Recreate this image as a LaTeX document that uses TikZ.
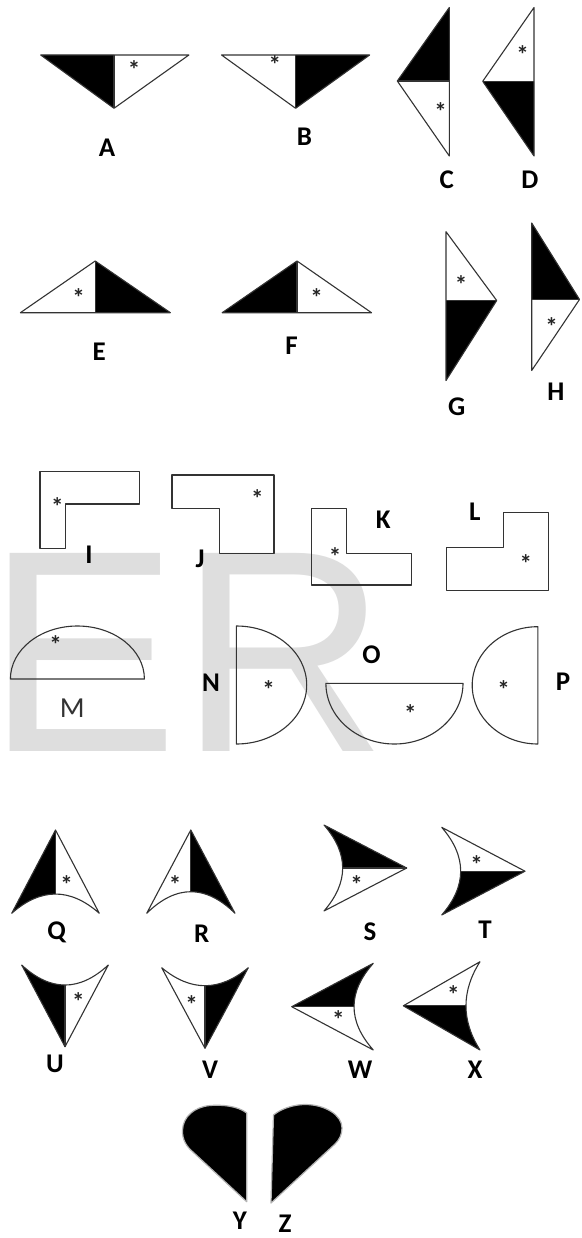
\documentclass[tikz,border=0pt]{standalone}
\usepackage{fontspec}
\newfontfamily\labfont{Carlito}
\newfontfamily\markfont{Liberation Sans}
\begin{document}
\begin{tikzpicture}[x=1pt,y=-1pt,
  outline/.style={draw=black!80, line width=1.1pt, line join=round},
  lab/.style={font=\labfont\bfseries\fontsize{27}{27}\selectfont, anchor=base, inner sep=0pt},
  labthin/.style={font=\labfont\fontsize{29}{29}\selectfont, text=black!80, anchor=base, inner sep=0pt},
  stark/.style={font=\labfont\bfseries\fontsize{25}{25}\selectfont, text=black!85, anchor=base, inner sep=0pt},
  wmark/.style={font=\markfont\fontsize{288}{288}\selectfont, text=black!13, anchor=base west, inner sep=0pt},
  capsule/.style={draw=gray!60, line width=1.2pt, fill=black, line join=round}]
\newcommand\starmark[3]{\node[stark] (#1) at (#2,#3+12) {*};}

\useasboundingbox (0,0) rectangle (581,1238);
\fill[white] (0,0) rectangle (581,1238);

% watermark letters
\node[wmark] (wmE) at (-13.7,751) {E};
\node[wmark] (wmR) at (179,751) {R};

% ---------- half-shaded triangles ----------
% A
\fill (40.7,55) -- (114,55) -- (114,108.3) -- cycle;
\draw[outline] (40.7,55) -- (188.9,55) -- (114,108.3) -- cycle;
\draw[outline] (114,55) -- (114,108.3);
\starmark{sA}{134}{66.7}
\node[lab] (lA) at (107,157) {A};
% B
\fill (295.6,55) -- (369.6,55) -- (295.6,108.3) -- cycle;
\draw[outline] (221.5,55) -- (369.6,55) -- (295.6,108.3) -- cycle;
\draw[outline] (295.6,55) -- (295.6,108.3);
\starmark{sB}{274.8}{61.7}
\node[lab] (lB) at (304.4,145.5) {B};
% C
\fill (449.3,7.5) -- (397.3,81) -- (449.3,81) -- cycle;
\draw[outline] (449.3,7.5) -- (397.3,81) -- (449.3,156) -- cycle;
\draw[outline] (397.3,81) -- (449.3,81);
\starmark{sC}{440.7}{108.3}
\node[lab] (lC) at (446.7,189) {C};
% D
\fill (482.7,81.3) -- (534,81.3) -- (534,156) -- cycle;
\draw[outline] (534,7.5) -- (482.7,81.3) -- (534,156) -- cycle;
\draw[outline] (482.7,81.3) -- (534,81.3);
\starmark{sD}{522.7}{51.7}
\node[lab] (lD) at (530,189) {D};
% E
\fill (95.2,261) -- (170.4,312.7) -- (95.2,312.7) -- cycle;
\draw[outline] (20.4,312.7) -- (95.2,261) -- (170.4,312.7) -- cycle;
\draw[outline] (95.2,261) -- (95.2,312.7);
\starmark{sE}{78.5}{294.3}
\node[lab] (lE) at (99.3,360.5) {E};
% F
\fill (297,261) -- (222.2,312.7) -- (297,312.7) -- cycle;
\draw[outline] (222.2,312.7) -- (297,261) -- (371.5,312.7) -- cycle;
\draw[outline] (297,261) -- (297,312.7);
\starmark{sF}{316.7}{294.3}
\node[lab] (lF) at (291.5,354.5) {F};
% G
\fill (446,300.5) -- (496.7,300.5) -- (446,380.5) -- cycle;
\draw[outline] (446,231.7) -- (496.7,300.5) -- (446,380.5) -- cycle;
\draw[outline] (446,300.5) -- (496.7,300.5);
\starmark{sG}{461}{281.7}
\node[lab] (lG) at (456.7,415.5) {G};
% H
\fill (531.7,223) -- (579.5,299.5) -- (531.7,299.5) -- cycle;
\draw[outline] (531.7,223) -- (579.5,299.5) -- (531.7,370.5) -- cycle;
\draw[outline] (531.7,299.5) -- (579.5,299.5);
\starmark{sH}{551.7}{323.3}
\node[lab] (lH) at (556,400.5) {H};

% ---------- L-shaped outlines ----------
\draw[outline] (40,471.7) -- (139.3,471.7) -- (139.3,504) -- (65.9,504) -- (65.9,548.3) -- (40,548.3) -- cycle;
\starmark{sI}{57.4}{503.3}
\node[lab] (lI) at (88.9,563.5) {I};
\draw[outline] (172,475) -- (274,475) -- (274,553.3) -- (219.3,553.3) -- (219.3,508.3) -- (172,508.3) -- cycle;
\starmark{sJ}{257.4}{495}
\node[lab] (lJ) at (200,567) {J};
\draw[outline] (311.1,508.3) -- (346.3,508.3) -- (346.3,553.3) -- (411.9,553.3) -- (411.9,585) -- (311.1,585) -- cycle;
\starmark{sK}{335.2}{553.3}
\node[lab] (lK) at (383.3,528.5) {K};
\draw[outline] (503.7,512.7) -- (548.1,512.7) -- (548.1,590.7) -- (446.3,590.7) -- (446.3,547.3) -- (503.7,547.3) -- cycle;
\starmark{sL}{525.9}{560}
\node[lab] (lL) at (474.8,520.5) {L};

% ---------- half-ellipses ----------
\draw[outline] (10.4,679) .. controls (10.4,649.7) and (40.4,626) .. (77.4,626)
  .. controls (114.4,626) and (144.4,649.7) .. (144.4,679) -- cycle;
\starmark{sM}{55.6}{641.7}
\node[labthin] (lM) at (72.2,717.5) {M};
\draw[outline] (236.3,626) .. controls (275.2,626) and (306.7,652.4) .. (306.7,685)
  .. controls (306.7,717.6) and (275.2,744) .. (236.3,744) -- cycle;
\starmark{sN}{268.5}{686}
\node[lab] (lN) at (211.1,691.5) {N};
\draw[outline] (325.9,683.3) .. controls (325.9,716.8) and (356.6,744) .. (394.4,744)
  .. controls (432.2,744) and (463,716.8) .. (463,683.3) -- cycle;
\starmark{sO}{410.4}{710}
\node[lab] (lO) at (371.5,663.5) {O};
\draw[outline] (537.8,626.7) .. controls (501.6,626.7) and (472.2,652.9) .. (472.2,685.3)
  .. controls (472.2,717.7) and (501.6,744) .. (537.8,744) -- cycle;
\starmark{sP}{503.7}{686}
\node[lab] (lP) at (563,690.5) {P};

% ---------- cusped pieces ----------
% Q
\def\pQ{(11.7,913.3) -- (55.5,830) -- (99.3,913.3) .. controls (70.1,887.6) and (40.9,887.6) .. (11.7,913.3) -- cycle}
\begin{scope}\clip (0,800) rectangle (55.5,925); \fill \pQ; \end{scope}
\draw[outline] \pQ;
\draw[outline] (55.5,830) -- (55.5,894);
\starmark{sQ}{66.7}{881.7}
\node[lab] (lQ) at (56.7,939) {Q};
% R
\def\pR{(146.7,913.3) -- (190.8,830) -- (235,913.3) .. controls (205.6,884.5) and (176.1,884.5) .. (146.7,913.3) -- cycle}
\begin{scope}\clip (190.8,800) rectangle (250,925); \fill \pR; \end{scope}
\draw[outline] \pR;
\draw[outline] (190.8,830) -- (190.8,891.7);
\starmark{sR}{175}{881}
\node[lab] (lR) at (201.7,942) {R};
% S
\def\pS{(324,825) -- (406.7,868) -- (324,911) .. controls (348.9,882.3) and (348.9,853.7) .. (324,825) -- cycle}
\begin{scope}\clip (310,810) rectangle (420,868); \fill \pS; \end{scope}
\draw[outline] \pS;
\draw[outline] (342.7,868) -- (406.7,868);
\starmark{sS}{356.7}{881.7}
\node[lab] (lS) at (370,940.5) {S};
% T
\def\pT{(441.7,827.3) -- (525,871.2) -- (441.7,915) .. controls (467,885.8) and (467,856.5) .. (441.7,827.3) -- cycle}
\begin{scope}\clip (430,871.2) rectangle (540,925); \fill \pT; \end{scope}
\draw[outline] \pT;
\draw[outline] (460.7,871.2) -- (525,871.2);
\starmark{sT}{476.7}{861.7}
\node[lab] (lT) at (485,938.5) {T};
% U
\def\pU{(21.7,965) -- (65,1046.7) -- (108.3,965) .. controls (79.4,991.7) and (50.6,991.7) .. (21.7,965) -- cycle}
\begin{scope}\clip (0,950) rectangle (65,1060); \fill \pU; \end{scope}
\draw[outline] \pU;
\draw[outline] (65,985) -- (65,1046.7);
\starmark{sU}{78.3}{998.3}
\node[lab] (lU) at (55,1072) {U};
% V
\def\pV{(161.7,967.7) -- (205,1048.3) -- (248.3,967.7) .. controls (219.4,991.7) and (190.6,991.7) .. (161.7,967.7) -- cycle}
\begin{scope}\clip (205,950) rectangle (260,1060); \fill \pV; \end{scope}
\draw[outline] \pV;
\draw[outline] (205,985.7) -- (205,1048.3);
\starmark{sV}{191.7}{1001.7}
\node[lab] (lV) at (210,1078.5) {V};
% W
\def\pW{(373.3,963.3) -- (291.7,1006.7) -- (373.3,1050) .. controls (347.6,1021.1) and (347.6,992.2) .. (373.3,963.3) -- cycle}
\begin{scope}\clip (280,950) rectangle (380,1006.7); \fill \pW; \end{scope}
\draw[outline] \pW;
\draw[outline] (291.7,1006.7) -- (354,1006.7);
\starmark{sW}{338.3}{1016.7}
\node[lab] (lW) at (360,1078.5) {W};
% X
\def\pX{(480,961.7) -- (403.3,1005.8) -- (480,1050) .. controls (461.3,1020.6) and (461.3,991.1) .. (480,961.7) -- cycle}
\begin{scope}\clip (390,1005.8) rectangle (490,1060); \fill \pX; \end{scope}
\draw[outline] \pX;
\draw[outline] (403.3,1005.8) -- (466,1005.8);
\starmark{sX}{453.3}{991.7}
\node[lab] (lX) at (475,1078.5) {X};

% ---------- rounded black halves ----------
\draw[capsule] (246.7,1201.7) -- (246.7,1113) .. controls (238,1106) and (222,1104.5) .. (210,1105.5)
  .. controls (194,1107) and (183,1117) .. (182.5,1130)
  .. controls (182,1140) and (187,1147) .. (193,1152) -- cycle;
\node[lab] (lY) at (240,1229) {Y};
\draw[capsule] (271,1203) -- (273.5,1115) .. controls (282,1108) and (295,1104.5) .. (305,1104.5)
  .. controls (325,1104.5) and (342,1115) .. (342,1128)
  .. controls (342,1135) and (339,1140) .. (335,1144) -- cycle;
\node[lab] (lZ) at (285,1232.5) {Z};
\end{tikzpicture}
\end{document}
